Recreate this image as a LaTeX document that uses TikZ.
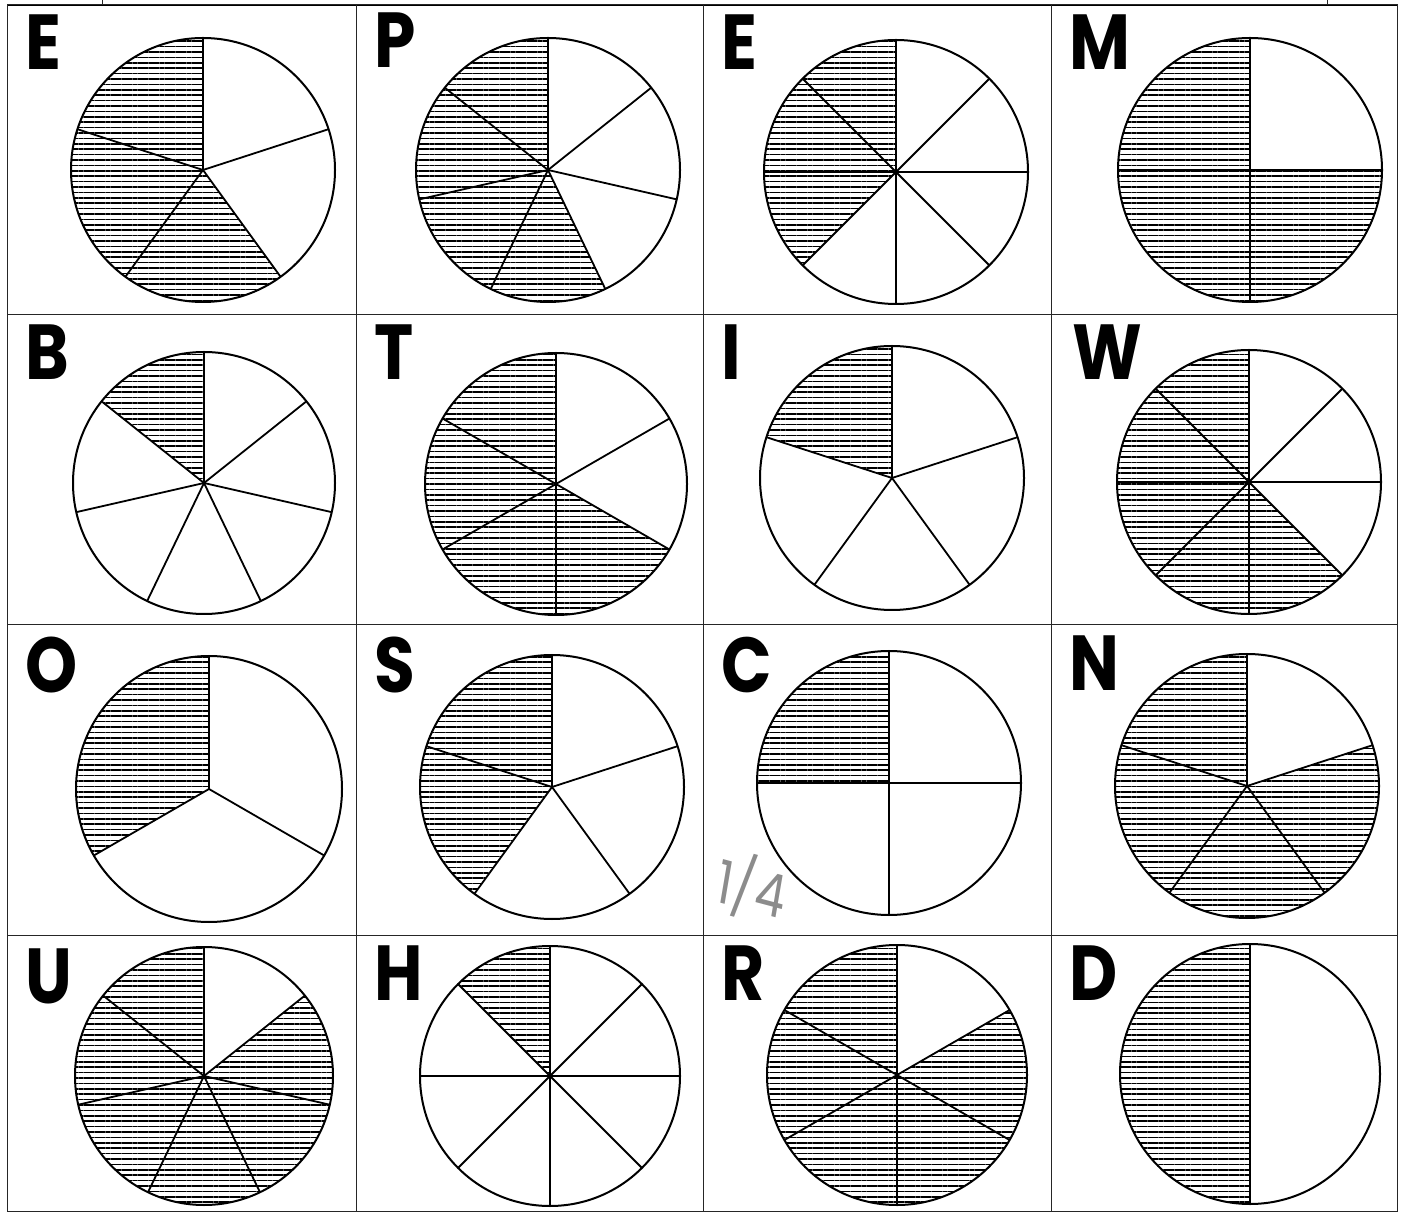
\documentclass[tikz,border=0pt]{standalone}
\usepackage{fontspec}
\setmainfont{Poppins}
\usetikzlibrary{patterns.meta}

% pie cut into #4 equal parts, #5 of them hatched (counter-clockwise from the top)
\newcommand{\fracpie}[5]{%
  \fill[hatch] (#1,#2) -- ++(90:#3) arc[start angle=90, delta angle={360*#5/#4}, radius=#3] -- cycle;
  \foreach \k in {1,...,#4} \draw[spoke] (#1,#2) -- ++({90+360*\k/#4}:#3);
  \draw[rim] (#1,#2) circle[radius=#3];
}

\begin{document}
\begin{tikzpicture}[x=0.5pt,y=0.5pt,
    grid/.style={line width=0.5pt, black!85},
    rim/.style={line width=1pt},
    spoke/.style={line width=0.9pt},
    hatch/.style={pattern={Lines[angle=0,distance=2.7pt,line width=0.8pt]}},
    letter/.style={anchor=base west, inner sep=0pt, xscale=0.85, font=\fontsize{39}{39}\selectfont\bfseries},
    note/.style={text=black!45, inner sep=0pt, xscale=0.8, font=\fontsize{30}{30}\selectfont}]
    \useasboundingbox (0,0) rectangle (1403,-1213);
    % frame and header
    \draw[line width=1pt] (7,-5) -- (1397,-5);
    \draw[grid] (102,0) -- (102,-5);
    \draw[grid] (1327,0) -- (1327,-5);
    \draw[grid] (7,-5) rectangle (1397,-1211);
    \draw[grid] (356,-5) -- (356,-1211);
    \draw[grid] (703,-5) -- (703,-1211);
    \draw[grid] (1051,-5) -- (1051,-1211);
    \draw[grid] (7,-315) -- (1397,-315);
    \draw[grid] (7,-625) -- (1397,-625);
    \draw[grid] (7,-935) -- (1397,-935);
    % row 1
    \fracpie{203}{-170}{132}{5}{3}
    \fracpie{548}{-170}{132}{7}{4}
    \fracpie{896}{-172}{132}{8}{3}
    \fracpie{1250}{-170}{132}{4}{3}
    \node[letter] (l11) at (25,-70){E};
    \node[letter] (l12) at (374,-68){P};
    \node[letter] (l13) at (721,-70){E};
    \node[letter] (l14) at (1069,-70){M};
    % row 2
    \fracpie{204}{-483}{131}{7}{1}
    \fracpie{556}{-484}{131}{6}{4}
    \fracpie{892}{-478}{132}{5}{1}
    \fracpie{1249}{-482}{132}{8}{5}
    \node[letter] (l21) at (25,-380){B};
    \node[letter] (l22) at (374,-380){T};
    \node[letter] (l23) at (721,-380){I};
    \node[letter] (l24) at (1072,-380){W};
    % row 3
    \fracpie{209}{-789}{133}{3}{1}
    \fracpie{552}{-787}{132}{5}{2}
    \fracpie{889}{-783}{132}{4}{1}
    \fracpie{1247}{-786}{132}{5}{4}
    \node[letter] (l31) at (25,-692){O};
    \node[letter] (l32) at (374,-692){S};
    \node[letter] (l33) at (721,-692){C};
    \node[letter] (l34) at (1069,-690){N};
    % row 4
    \fracpie{204}{-1076}{129}{7}{6}
    \fracpie{550}{-1076}{130}{8}{1}
    \fracpie{897}{-1075}{130}{6}{5}
    \fracpie{1250}{-1074}{130}{2}{1}
    \node[letter] (l41) at (25,-1003){U};
    \node[letter] (l42) at (374,-1000){H};
    \node[letter] (l43) at (721,-1000){R};
    \node[letter] (l44) at (1069,-1000){D};
    % pencil note
    \node[note, rotate=-12] (pencil) at (752,-888){1/4};
\end{tikzpicture}
\end{document}
